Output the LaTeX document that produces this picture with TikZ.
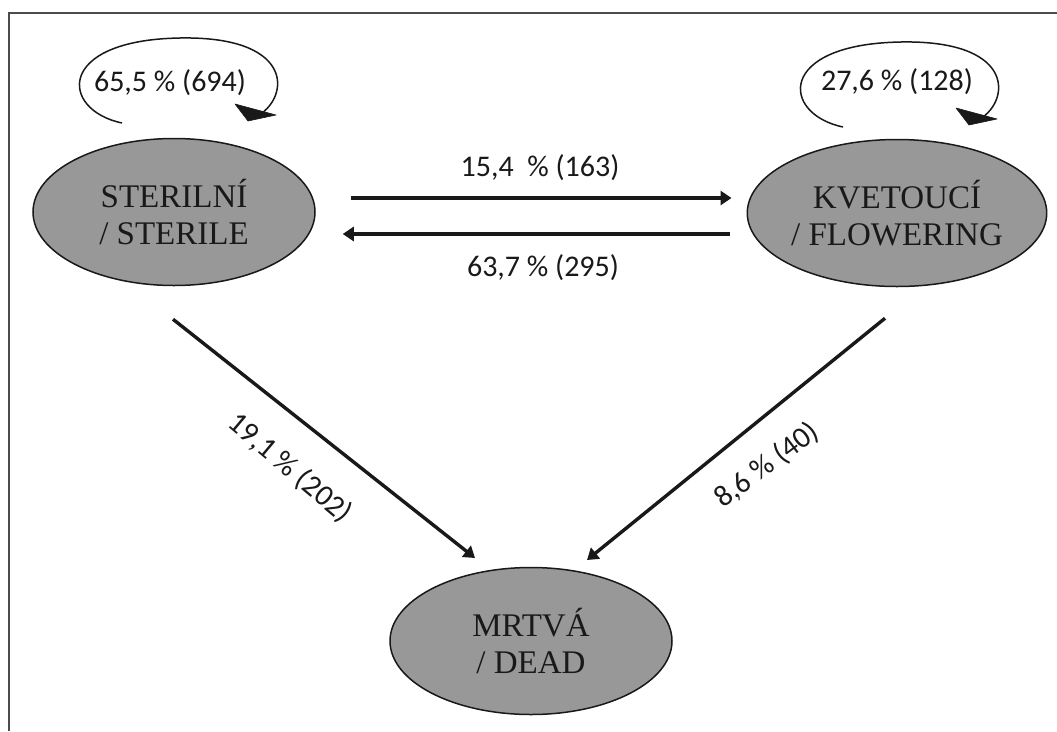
\documentclass[tikz,border=0pt]{standalone}
\usepackage{fontspec}
\setmainfont{Liberation Serif}
\newfontfamily\pctfont{Carlito}
\usetikzlibrary{shapes.geometric,arrows.meta,calc}
\definecolor{ellfill}{RGB}{152,152,152}
\definecolor{inkc}{RGB}{25,25,25}
\tikzset{
  state/.style={ellipse,draw=inkc,line width=1.5pt,fill=ellfill,minimum width=282pt,minimum height=147pt,inner sep=0pt,align=center,font=\fontsize{33}{37}\selectfont,text=inkc},
  pct/.style={font=\pctfont\fontsize{30}{34}\selectfont,text=inkc,inner sep=0pt},
  arr/.style={draw=inkc,line width=3.4pt,-{Triangle[length=11pt,width=14pt]}},
  loopline/.style={draw=inkc,line width=1.5pt},
  loophead/.style={fill=inkc,draw=inkc,line width=0.6pt,line join=round}
}
\begin{document}
\begin{tikzpicture}[x=1pt,y=-1pt]
\useasboundingbox (0,0) rectangle (1057,731);
\fill[white] (0,0) rectangle (1057,731);
\coordinate (fa) at (9,731);
\coordinate (fb) at (9,13);
\coordinate (fc) at (1057,13);
\draw[line width=1.8pt,draw=black!70] (fa) -- (fb) -- (fc);

\node[state] (s) at (174,212) {STERILNÍ\\/ STERILE};
\node[state] (k) at (897,213) {KVETOUCÍ\\/ FLOWERING};
\node[state] (d) at (531,641) {MRTVÁ\\/ DEAD};

% self loops
\begin{scope}[shift={(s.center)}]
  \draw[loopline] (-52,-89) .. controls (-114,-102) and (-119,-172) .. (6,-174)
                            .. controls (116,-176) and (116,-120) .. (88,-99);
  \filldraw[loophead] (61,-108) -- (74,-91) -- (102,-97) -- cycle;
\end{scope}
\begin{scope}[shift={(k.center)}]
  \draw[loopline] (-54,-86) .. controls (-116,-99) and (-121,-169) .. (4,-171)
                            .. controls (114,-173) and (114,-117) .. (86,-96);
  \filldraw[loophead] (59,-105) -- (72,-88) -- (100,-94) -- cycle;
\end{scope}
\node[pct] (ls) at ($(s.center)+(-4,-129)$) {65,5 \% (694)};
\node[pct] (lk) at ($(k.center)+(0,-131)$) {27,6 \% (128)};

% horizontal arrows
\draw[arr] ([xshift=35pt,yshift=14pt]s.east) -- ([xshift=-15pt,yshift=15pt]k.west);
\draw[arr] ([xshift=-17pt,yshift=-21pt]k.west) -- ([xshift=27pt,yshift=-22pt]s.east);
\node[pct] (l1) at (540,168) {15,4\ \ \% (163)};
\node[pct] (l2) at (543,268) {63,7 \% (295)};

% diagonal arrows
\draw[arr] ([xshift=-1pt,yshift=-33pt]s.south) -- ($(d.center)+(-56,-83)$);
\draw[arr] ([xshift=-12pt,yshift=-31pt]k.south) -- ($(d.center)+(56,-81)$);
\node[pct,rotate=-40] (l3) at (290,468) {19,1 \% (202)};
\node[pct,rotate=37] (l4) at (767,465) {8,6 \% (40)};
\end{tikzpicture}
\end{document}
